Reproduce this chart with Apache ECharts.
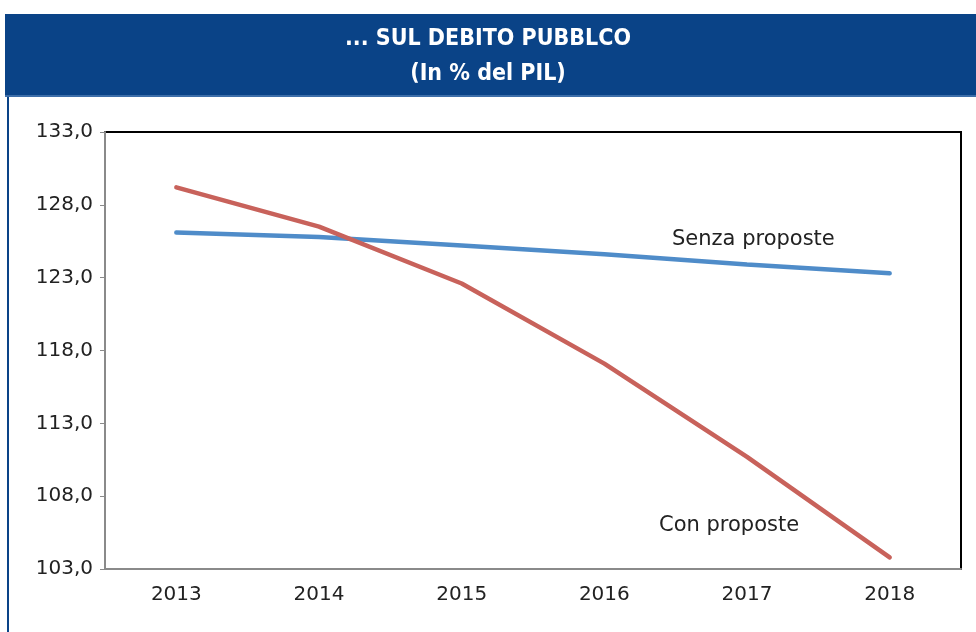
<!DOCTYPE html>
<html>
<head>
<meta charset="utf-8">
<script src="https://cdn.jsdelivr.net/npm/echarts@6/dist/echarts.min.js"></script>
<style>
  html, body { margin: 0; padding: 0; background: #fff; }
  #chart { width: 976px; height: 632px; }
</style>
</head>
<body>
<div id="chart"></div>
<script>
// anni e valori (% del PIL)
const years = ['2013', '2014', '2015', '2016', '2017', '2018'];
const senzaProposte = [126.1, 125.8, 125.2, 124.6, 123.9, 123.3];
const conProposte = [129.2, 126.5, 122.6, 117.1, 110.7, 103.8];
const yTicks = [103, 108, 113, 118, 123, 128, 133];

const chart = echarts.init(document.getElementById('chart'));

const fontLabel = 'DejaVu Sans';

chart.setOption({
  backgroundColor: '#ffffff',
  animation: false,
  title: {
    text: '... SUL DEBITO PUBBLCO\n(In % del PIL)',
    left: 'center',
    top: 17,
    textStyle: {
      color: '#ffffff',
      fontFamily: '"DejaVu Sans Condensed", "Liberation Sans", sans-serif',
      fontWeight: 'bold',
      fontSize: 23,
      lineHeight: 35
    }
  },
  graphic: [
    { type: 'rect', z: -1, shape: { x: 5, y: 14, width: 971, height: 83 }, style: { fill: '#0a4387' } },
    { type: 'rect', z: -1, shape: { x: 5, y: 95, width: 971, height: 2 }, style: { fill: '#3d6ea9' } },
    { type: 'rect', z: -1, shape: { x: 7, y: 97, width: 2, height: 535 }, style: { fill: '#0a4387' } },
    {
      type: 'text', left: 672, top: 229,
      style: { text: 'Senza proposte', fontSize: 21, fontFamily: fontLabel, fill: '#222' }
    },
    {
      type: 'text', left: 659, top: 515,
      style: { text: 'Con proposte', fontSize: 21, fontFamily: fontLabel, fill: '#222' }
    }
  ],
  grid: {
    left: 105,
    right: 15,
    top: 132,
    bottom: 63,
    show: true,
    borderColor: '#000',
    borderWidth: 2
  },
  xAxis: {
    type: 'category',
    data: years,
    boundaryGap: true,
    axisLine: { lineStyle: { color: '#8a8a8a', width: 2 } },
    axisTick: { alignWithLabel: false, length: 5, lineStyle: { color: '#8a8a8a' } },
    axisLabel: { color: '#222', fontSize: 20, fontFamily: fontLabel, margin: 16 }
  },
  yAxis: {
    type: 'value',
    min: 103,
    max: 133,
    axisLine: { show: true, lineStyle: { color: '#8a8a8a', width: 2 } },
    axisTick: { show: true, length: 5, customValues: yTicks, lineStyle: { color: '#8a8a8a' } },
    axisLabel: {
      customValues: yTicks,
      color: '#222',
      fontSize: 20,
      fontFamily: fontLabel,
      margin: 12,
      formatter: v => v.toFixed(1).replace('.', ',')
    },
    splitLine: { show: false }
  },
  series: [
    {
      name: 'Senza proposte',
      type: 'line',
      data: senzaProposte,
      symbol: 'none',
      lineStyle: { color: '#4f8cc9', width: 4.5, cap: 'round' }
    },
    {
      name: 'Con proposte',
      type: 'line',
      data: conProposte,
      symbol: 'none',
      lineStyle: { color: '#c8625b', width: 4.5, cap: 'round' }
    }
  ]
});
</script>
</body>
</html>
